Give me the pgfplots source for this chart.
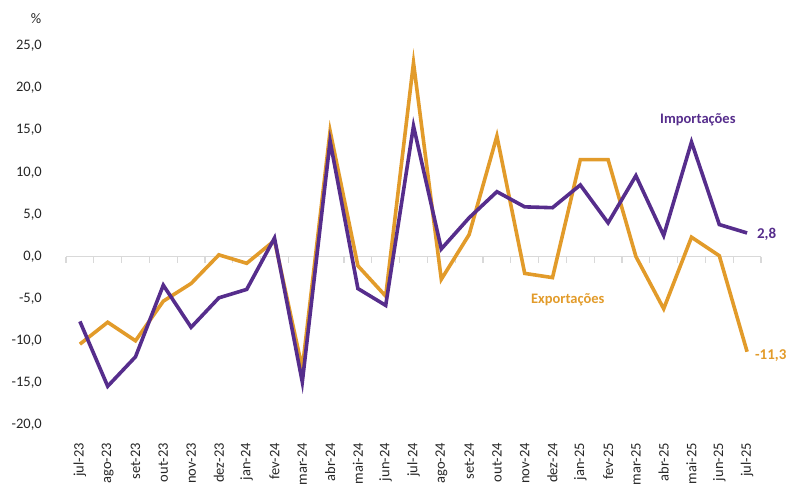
\documentclass[border=0pt]{standalone}
\usepackage{pgfplots}
\pgfplotsset{compat=1.18}
\usepackage{fontspec}
\setmainfont{Carlito}
\definecolor{imp}{RGB}{86,45,140}
\definecolor{exp}{RGB}{226,155,42}
\definecolor{zl}{RGB}{217,217,217}
\begin{document}
\begin{tikzpicture}[x=1pt,y=1pt]
\begin{axis}[
  at={(66pt,59pt)}, anchor=south west,
  scale only axis, width=695pt, height=379pt,
  xmin=-0.5, xmax=24.5, ymin=-20, ymax=25,
  axis line style={draw=none},
  major tick length=0pt,
  xtick={0,...,24},
  xticklabels={jul-23,ago-23,set-23,out-23,nov-23,dez-23,jan-24,fev-24,mar-24,abr-24,mai-24,jun-24,jul-24,ago-24,set-24,out-24,nov-24,dez-24,jan-25,fev-25,mar-25,abr-25,mai-25,jun-25,jul-25},
  ytick={-20,-15,...,25},
  xticklabel style={rotate=90, anchor=east, inner sep=0pt, font=\fontsize{14.5}{16}\selectfont},
  yticklabel style={anchor=east, inner sep=0pt, font=\fontsize{14.5}{16}\selectfont},
  xticklabel shift=18pt, yticklabel shift=24pt,
  every tick label/.append style={text=black!85},
  /pgf/number format/.cd, fixed, fixed zerofill, precision=1, use comma, 1000 sep={}, assume math mode=true,
  /pgfplots/.cd,
  clip=false,
]
\draw[zl, line width=1.5pt] (axis cs:-0.5,0) -- (axis cs:24.5,0);
\pgfplotsinvokeforeach{0,...,25}{
  \draw[zl, line width=1.2pt] (axis cs:#1-0.5,0) -- ([yshift=-6pt]axis cs:#1-0.5,0);
}
\addplot[exp, line width=3.6pt, line join=miter, mark=none] coordinates {
(0,-10.4) (1,-7.8) (2,-10.0) (3,-5.3) (4,-3.2) (5,0.2) (6,-0.8) (7,1.9)
(8,-13.3) (9,14.9) (10,-1.1) (11,-4.7) (12,23.0) (13,-2.7) (14,2.6) (15,14.3)
(16,-2.0) (17,-2.5) (18,11.5) (19,11.5) (20,0.0) (21,-6.2) (22,2.3) (23,0.1) (24,-11.3)
};
\addplot[imp, line width=3.6pt, line join=miter, mark=none] coordinates {
(0,-7.7) (1,-15.4) (2,-11.9) (3,-3.4) (4,-8.4) (5,-4.9) (6,-3.9) (7,2.2)
(8,-14.9) (9,13.7) (10,-3.8) (11,-5.8) (12,15.5) (13,0.9) (14,4.6) (15,7.7)
(16,5.9) (17,5.8) (18,8.5) (19,4.0) (20,9.6) (21,2.5) (22,13.6) (23,3.8) (24,2.8)
};
\node[font=\fontsize{14.5}{16}\selectfont\bfseries, text=imp] at (axis cs:22.23,16.2) {Importações};
\node[font=\fontsize{14.5}{16}\selectfont\bfseries, text=exp] at (axis cs:17.55,-5.1) {Exportações};
\node[font=\fontsize{15}{16}\selectfont\bfseries, text=imp, anchor=west, inner sep=0pt] at (axis cs:24.35,2.6) {2,8};
\node[font=\fontsize{15}{16}\selectfont\bfseries, text=exp, anchor=west, inner sep=0pt] at (axis cs:24.28,-11.8) {-11,3};
\node[font=\fontsize{14.5}{16}\selectfont, text=black!85] at (axis cs:-1.58,28.3) {\%};
\end{axis}
\pgfresetboundingbox
\useasboundingbox (0,0) rectangle (788,484);
\end{tikzpicture}
\end{document}
